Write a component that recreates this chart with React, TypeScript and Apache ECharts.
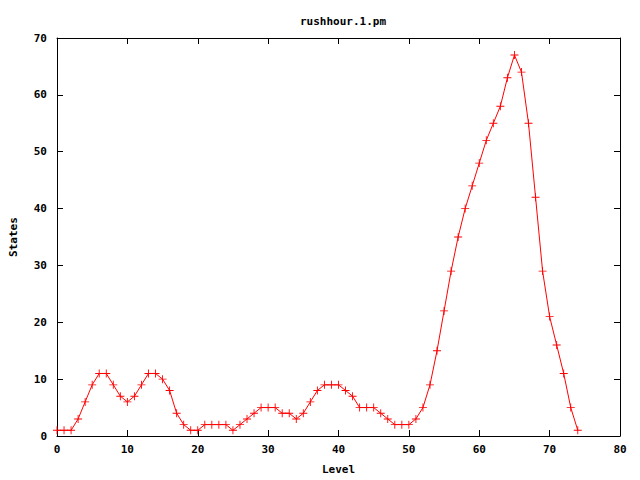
import React, { useEffect, useRef } from "react";
import * as echarts from "echarts";

const levels: number[] = Array.from({ length: 75 }, (_, i) => i);
const states: number[] = [
  1, 1, 1, 3, 6, 9, 11, 11, 9, 7,
  6, 7, 9, 11, 11, 10, 8, 4, 2, 1,
  1, 2, 2, 2, 2, 1, 2, 3, 4, 5,
  5, 5, 4, 4, 3, 4, 6, 8, 9, 9,
  9, 8, 7, 5, 5, 5, 4, 3, 2, 2,
  2, 3, 5, 9, 15, 22, 29, 35, 40, 44,
  48, 52, 55, 58, 63, 67, 64, 55, 42, 29,
  21, 16, 11, 5, 1,
];
const chartTitle = "rushhour.1.pm";
const xName = "Level";
const yName = "States";

const FONT = "DejaVu Sans Mono";

export default function App() {
  const ref = useRef<HTMLDivElement>(null);
  useEffect(() => {
    document.body.style.margin = "0";
    if (!ref.current) return;
    const chart = echarts.init(ref.current, undefined, { renderer: "svg" });
    const labelStyle = {
      fontFamily: FONT,
      fontWeight: "bold" as const,
      fontSize: 11,
      color: "#000",
    };
    const line = { show: true, onZero: false, lineStyle: { color: "#000", width: 1 } };
    const tick = { show: true, inside: true, length: 6, lineStyle: { color: "#000", width: 1 } };
    chart.setOption({
      animation: false,
      backgroundColor: "#fff",
      title: {
        text: chartTitle,
        left: 338,
        top: 11,
        textAlign: "center",
        textStyle: { ...labelStyle },
      },
      grid: { left: 56, right: 20, top: 38, bottom: 40, containLabel: false },
      xAxis: [
        {
          type: "value",
          min: 0,
          max: 80,
          interval: 10,
          position: "bottom",
          name: xName,
          nameLocation: "middle",
          nameGap: 28,
          nameTextStyle: { ...labelStyle },
          axisLine: line,
          axisTick: tick,
          axisLabel: { ...labelStyle, margin: 8 },
          splitLine: { show: false },
        },
        {
          type: "value",
          min: 0,
          max: 80,
          interval: 10,
          position: "top",
          axisLine: line,
          axisTick: tick,
          axisLabel: { show: false },
          splitLine: { show: false },
        },
      ],
      yAxis: [
        {
          type: "value",
          min: 0,
          max: 70,
          interval: 10,
          position: "left",
          name: yName,
          nameLocation: "middle",
          nameGap: 38,
          nameTextStyle: { ...labelStyle },
          axisLine: line,
          axisTick: tick,
          axisLabel: { ...labelStyle, margin: 10 },
          splitLine: { show: false },
        },
        {
          type: "value",
          min: 0,
          max: 70,
          interval: 10,
          position: "right",
          axisLine: line,
          axisTick: tick,
          axisLabel: { show: false },
          splitLine: { show: false },
        },
      ],
      series: [
        {
          type: "line",
          xAxisIndex: 0,
          yAxisIndex: 0,
          data: levels.map((x, i) => [x, states[i]]),
          lineStyle: { color: "#ff0000", width: 1 },
          itemStyle: { color: "#ff0000" },
          symbol: "path://M4,0h1v4h4v1h-4v4h-1v-4h-4v-1h4z",
          symbolSize: 8,
          showSymbol: true,
          silent: true,
        },
      ],
    });
    return () => chart.dispose();
  }, []);
  return <div ref={ref} style={{ width: 640, height: 480 }} />;
}
